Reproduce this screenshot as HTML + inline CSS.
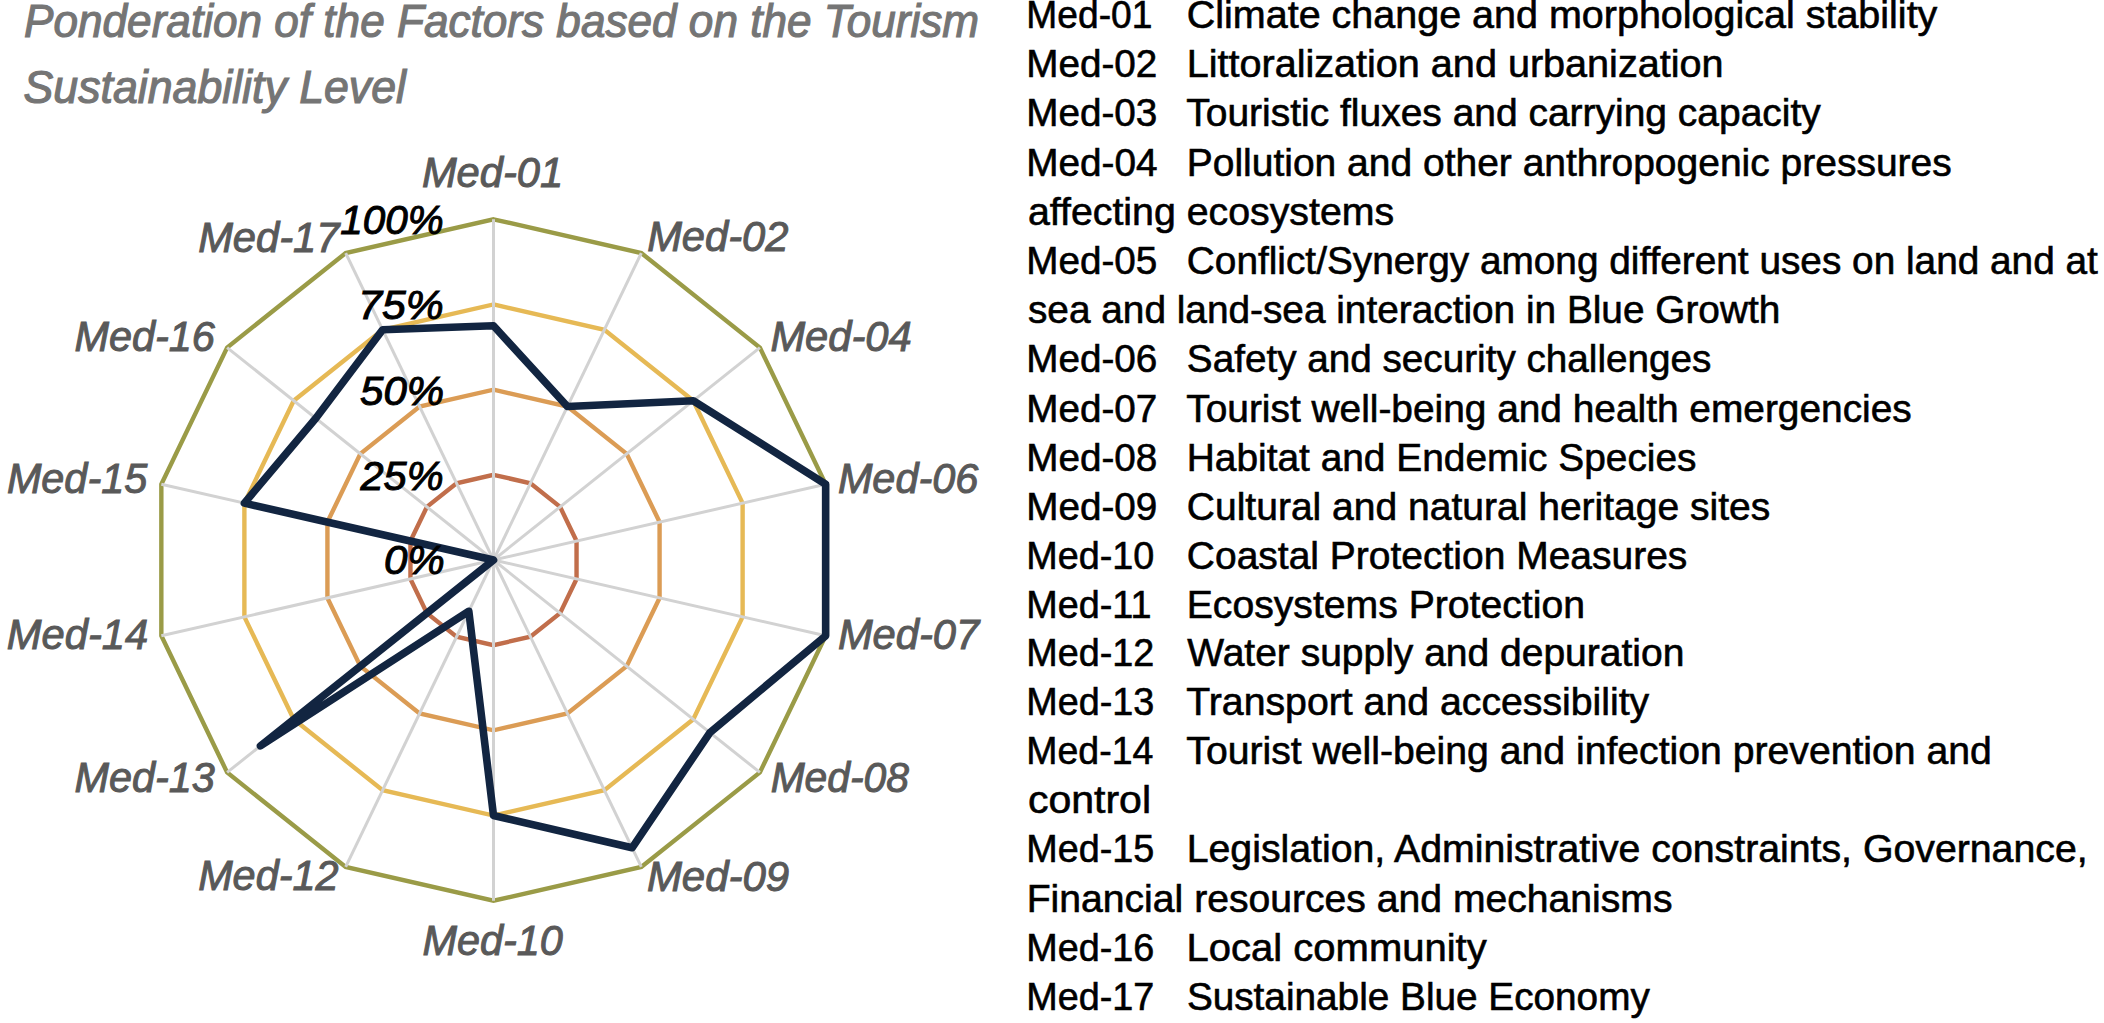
<!DOCTYPE html>
<html lang="en"><head><meta charset="utf-8"><title>Ponderation of the Factors based on the Tourism Sustainability Level</title>
<style>
html,body{margin:0;padding:0;background:#fff;}
body{width:2104px;height:1023px;overflow:hidden;}
svg{display:block;}
text{font-family:"Liberation Sans",sans-serif;white-space:pre;}
.title{font-size:47px;font-style:italic;fill:#757575;stroke:#757575;stroke-width:1.2px;}
.cat{font-size:42px;font-style:italic;fill:#595959;stroke:#595959;stroke-width:1.0px;}
.val{font-size:40px;font-style:italic;fill:#000;stroke:#000;stroke-width:1.0px;}
.li{font-size:38px;fill:#000;stroke:#000;stroke-width:0.6px;}
.ring{fill:none;stroke-width:4.4;stroke-linejoin:miter;}
.grid{stroke:#d2d2d2;stroke-width:3.0;}
.series{fill:none;stroke:#122541;stroke-width:7.6;stroke-linejoin:round;stroke-linecap:round;}
</style></head><body>
<svg width="2104" height="1023" viewBox="0 0 2104 1023">
<rect width="2104" height="1023" fill="#fff"/>
<g id="rings">
<polygon class="ring" stroke="#9a9b47" points="493.50,219.30 641.32,253.04 759.87,347.58 825.66,484.19 825.66,635.81 759.87,772.42 641.32,866.96 493.50,900.70 345.68,866.96 227.13,772.42 161.34,635.81 161.34,484.19 227.13,347.58 345.68,253.04"/>
<polygon class="ring" stroke="#e6b955" points="493.50,304.48 604.37,329.78 693.28,400.68 742.62,503.14 742.62,616.86 693.28,719.32 604.37,790.22 493.50,815.52 382.63,790.22 293.72,719.32 244.38,616.86 244.38,503.14 293.72,400.68 382.63,329.78"/>
<polygon class="ring" stroke="#db9c55" points="493.50,389.65 567.41,406.52 626.68,453.79 659.58,522.09 659.58,597.91 626.68,666.21 567.41,713.48 493.50,730.35 419.59,713.48 360.32,666.21 327.42,597.91 327.42,522.09 360.32,453.79 419.59,406.52"/>
<polygon class="ring" stroke="#c16e4b" points="493.50,474.82 530.46,483.26 560.09,506.89 576.54,541.05 576.54,578.95 560.09,613.11 530.46,636.74 493.50,645.17 456.54,636.74 426.91,613.11 410.46,578.95 410.46,541.05 426.91,506.89 456.54,483.26"/>
</g>
<g id="grid" class="grid">
<line x1="493.50" y1="560.00" x2="493.50" y2="219.30"/>
<line x1="493.50" y1="560.00" x2="641.32" y2="253.04"/>
<line x1="493.50" y1="560.00" x2="759.87" y2="347.58"/>
<line x1="493.50" y1="560.00" x2="825.66" y2="484.19"/>
<line x1="493.50" y1="560.00" x2="825.66" y2="635.81"/>
<line x1="493.50" y1="560.00" x2="759.87" y2="772.42"/>
<line x1="493.50" y1="560.00" x2="641.32" y2="866.96"/>
<line x1="493.50" y1="560.00" x2="493.50" y2="900.70"/>
<line x1="493.50" y1="560.00" x2="345.68" y2="866.96"/>
<line x1="493.50" y1="560.00" x2="227.13" y2="772.42"/>
<line x1="493.50" y1="560.00" x2="161.34" y2="635.81"/>
<line x1="493.50" y1="560.00" x2="161.34" y2="484.19"/>
<line x1="493.50" y1="560.00" x2="227.13" y2="347.58"/>
<line x1="493.50" y1="560.00" x2="345.68" y2="253.04"/>
</g>
<polygon class="series" points="493.50,325.77 567.41,406.52 693.28,400.68 825.66,484.19 825.66,635.81 709.93,732.59 632.09,847.78 493.50,815.52 468.81,611.26 260.43,745.87 493.50,560.00 244.38,503.14 315.83,418.31 382.63,329.78"/>
<g id="texts">
<text id="t1" class="title" x="24.06" y="37.20" textLength="955.07" lengthAdjust="spacingAndGlyphs">Ponderation of the Factors based on the Tourism</text>
<text id="t2" class="title" x="23.53" y="103.10" textLength="382.48" lengthAdjust="spacingAndGlyphs">Sustainability Level</text>
<text id="c01" class="cat" x="421.88" y="186.55" textLength="141.32" lengthAdjust="spacingAndGlyphs">Med-01</text>
<text id="c02" class="cat" x="647.14" y="251.05" textLength="141.33" lengthAdjust="spacingAndGlyphs">Med-02</text>
<text id="c04" class="cat" x="770.38" y="351.30" textLength="141.34" lengthAdjust="spacingAndGlyphs">Med-04</text>
<text id="c06" class="cat" x="837.90" y="492.55" textLength="140.32" lengthAdjust="spacingAndGlyphs">Med-06</text>
<text id="c07" class="cat" x="837.88" y="649.30" textLength="141.36" lengthAdjust="spacingAndGlyphs">Med-07</text>
<text id="c08" class="cat" x="770.65" y="791.55" textLength="138.31" lengthAdjust="spacingAndGlyphs">Med-08</text>
<text id="c09" class="cat" x="646.89" y="890.80" textLength="142.34" lengthAdjust="spacingAndGlyphs">Med-09</text>
<text id="c10" class="cat" x="422.41" y="954.80" textLength="140.31" lengthAdjust="spacingAndGlyphs">Med-10</text>
<text id="c12" class="cat" x="198.15" y="890.30" textLength="140.33" lengthAdjust="spacingAndGlyphs">Med-12</text>
<text id="c13" class="cat" x="74.42" y="791.80" textLength="140.31" lengthAdjust="spacingAndGlyphs">Med-13</text>
<text id="c14" class="cat" x="6.87" y="649.30" textLength="141.35" lengthAdjust="spacingAndGlyphs">Med-14</text>
<text id="c15" class="cat" x="6.88" y="492.55" textLength="140.33" lengthAdjust="spacingAndGlyphs">Med-15</text>
<text id="c16" class="cat" x="74.41" y="351.30" textLength="140.31" lengthAdjust="spacingAndGlyphs">Med-16</text>
<text id="c17" class="cat" x="198.13" y="251.55" textLength="141.32" lengthAdjust="spacingAndGlyphs">Med-17</text>
<text id="v100" class="val" x="340.25" y="233.55" textLength="103.32" lengthAdjust="spacingAndGlyphs">100%</text>
<text id="v75" class="val" x="358.27" y="318.55" textLength="85.35" lengthAdjust="spacingAndGlyphs">75%</text>
<text id="v50" class="val" x="360.00" y="404.55" textLength="84.15" lengthAdjust="spacingAndGlyphs">50%</text>
<text id="v25" class="val" x="360.52" y="490.30" textLength="83.06" lengthAdjust="spacingAndGlyphs">25%</text>
<text id="v0" class="val" x="383.93" y="573.80" textLength="60.91" lengthAdjust="spacingAndGlyphs">0%</text>
<text id="m00" class="li" x="1026.36" y="27.96" textLength="125.96" lengthAdjust="spacingAndGlyphs">Med-01</text>
<text id="d00" class="li" x="1186.82" y="27.96" textLength="750.54" lengthAdjust="spacingAndGlyphs">Climate change and morphological stability</text>
<text id="m01" class="li" x="1026.26" y="77.14" textLength="131.11" lengthAdjust="spacingAndGlyphs">Med-02</text>
<text id="d01" class="li" x="1186.67" y="77.14" textLength="536.87" lengthAdjust="spacingAndGlyphs">Littoralization and urbanization</text>
<text id="m02" class="li" x="1026.26" y="126.33" textLength="131.11" lengthAdjust="spacingAndGlyphs">Med-03</text>
<text id="d02" class="li" x="1186.30" y="126.33" textLength="634.52" lengthAdjust="spacingAndGlyphs">Touristic fluxes and carrying capacity</text>
<text id="m03" class="li" x="1026.24" y="175.51" textLength="131.32" lengthAdjust="spacingAndGlyphs">Med-04</text>
<text id="d03" class="li" x="1186.73" y="175.51" textLength="765.01" lengthAdjust="spacingAndGlyphs">Pollution and other anthropogenic pressures</text>
<text id="d04" class="li" x="1027.96" y="224.70" textLength="366.21" lengthAdjust="spacingAndGlyphs">affecting ecosystems</text>
<text id="m05" class="li" x="1026.26" y="273.88" textLength="131.11" lengthAdjust="spacingAndGlyphs">Med-05</text>
<text id="d05" class="li" x="1186.86" y="273.88" textLength="911.00" lengthAdjust="spacingAndGlyphs">Conflict/Synergy among different uses on land and at</text>
<text id="d06" class="li" x="1027.98" y="323.10" textLength="752.29" lengthAdjust="spacingAndGlyphs">sea and land-sea interaction in Blue Growth</text>
<text id="m07" class="li" x="1026.26" y="372.31" textLength="131.11" lengthAdjust="spacingAndGlyphs">Med-06</text>
<text id="d07" class="li" x="1186.88" y="372.31" textLength="524.56" lengthAdjust="spacingAndGlyphs">Safety and security challenges</text>
<text id="m08" class="li" x="1026.26" y="421.53" textLength="131.11" lengthAdjust="spacingAndGlyphs">Med-07</text>
<text id="d08" class="li" x="1186.30" y="421.53" textLength="725.46" lengthAdjust="spacingAndGlyphs">Tourist well-being and health emergencies</text>
<text id="m09" class="li" x="1026.26" y="470.74" textLength="131.11" lengthAdjust="spacingAndGlyphs">Med-08</text>
<text id="d09" class="li" x="1186.73" y="470.74" textLength="509.78" lengthAdjust="spacingAndGlyphs">Habitat and Endemic Species</text>
<text id="m10" class="li" x="1026.26" y="519.96" textLength="131.11" lengthAdjust="spacingAndGlyphs">Med-09</text>
<text id="d10" class="li" x="1186.84" y="519.96" textLength="583.41" lengthAdjust="spacingAndGlyphs">Cultural and natural heritage sites</text>
<text id="m11" class="li" x="1026.32" y="568.74" textLength="128.02" lengthAdjust="spacingAndGlyphs">Med-10</text>
<text id="d11" class="li" x="1186.85" y="568.74" textLength="500.49" lengthAdjust="spacingAndGlyphs">Coastal Protection Measures</text>
<text id="m12" class="li" x="1026.32" y="617.53" textLength="125.22" lengthAdjust="spacingAndGlyphs">Med-11</text>
<text id="d12" class="li" x="1186.70" y="617.53" textLength="398.26" lengthAdjust="spacingAndGlyphs">Ecosystems Protection</text>
<text id="m13" class="li" x="1026.32" y="666.31" textLength="128.02" lengthAdjust="spacingAndGlyphs">Med-12</text>
<text id="d13" class="li" x="1187.30" y="666.31" textLength="497.03" lengthAdjust="spacingAndGlyphs">Water supply and depuration</text>
<text id="m14" class="li" x="1026.32" y="715.10" textLength="128.02" lengthAdjust="spacingAndGlyphs">Med-13</text>
<text id="d14" class="li" x="1186.30" y="715.10" textLength="462.94" lengthAdjust="spacingAndGlyphs">Transport and accessibility</text>
<text id="m15" class="li" x="1026.34" y="763.88" textLength="127.00" lengthAdjust="spacingAndGlyphs">Med-14</text>
<text id="d15" class="li" x="1186.30" y="763.88" textLength="805.55" lengthAdjust="spacingAndGlyphs">Tourist well-being and infection prevention and</text>
<text id="d16" class="li" x="1027.93" y="813.10" textLength="123.09" lengthAdjust="spacingAndGlyphs">control</text>
<text id="m17" class="li" x="1026.32" y="862.31" textLength="128.02" lengthAdjust="spacingAndGlyphs">Med-15</text>
<text id="d17" class="li" x="1186.70" y="862.31" textLength="900.96" lengthAdjust="spacingAndGlyphs">Legislation, Administrative constraints, Governance,</text>
<text id="d18" class="li" x="1026.70" y="911.53" textLength="645.82" lengthAdjust="spacingAndGlyphs">Financial resources and mechanisms</text>
<text id="m19" class="li" x="1026.32" y="960.74" textLength="128.02" lengthAdjust="spacingAndGlyphs">Med-16</text>
<text id="d19" class="li" x="1186.64" y="960.74" textLength="300.09" lengthAdjust="spacingAndGlyphs">Local community</text>
<text id="m20" class="li" x="1026.32" y="1009.96" textLength="128.02" lengthAdjust="spacingAndGlyphs">Med-17</text>
<text id="d20" class="li" x="1186.88" y="1009.96" textLength="462.90" lengthAdjust="spacingAndGlyphs">Sustainable Blue Economy</text>
</g></svg></body></html>
